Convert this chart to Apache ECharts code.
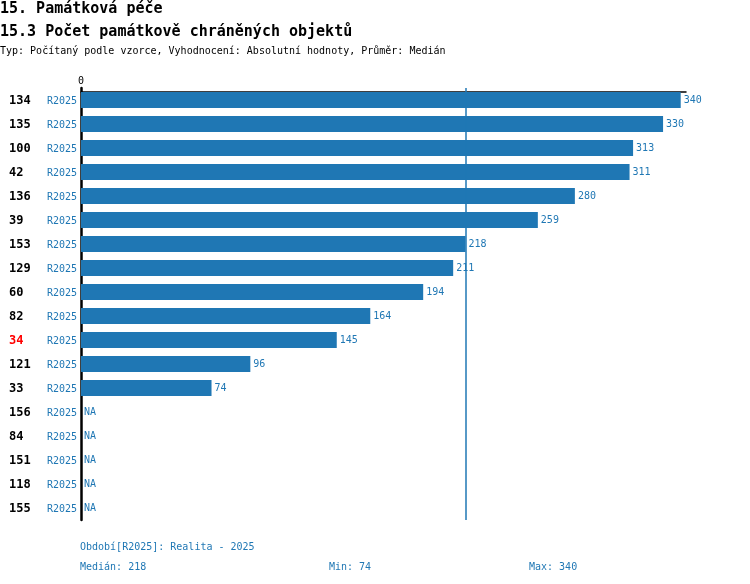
<!DOCTYPE html>
<html>
<head>
<meta charset="utf-8">
<script src="https://cdn.jsdelivr.net/npm/echarts@6/dist/echarts.min.js"></script>
<style>
  html, body { margin: 0; padding: 0; background: #fff; }
  #main { width: 750px; height: 584px; }
</style>
</head>
<body>
<div id="main"></div>
<script>
var ids = ['134', '135', '100', '42', '136', '39', '153', '129', '60', '82', '34', '121', '33', '156', '84', '151', '118', '155'];
var periods = ['R2025', 'R2025', 'R2025', 'R2025', 'R2025', 'R2025', 'R2025', 'R2025', 'R2025', 'R2025', 'R2025', 'R2025', 'R2025', 'R2025', 'R2025', 'R2025', 'R2025', 'R2025'];
var values = [340, 330, 313, 311, 280, 259, 218, 211, 194, 164, 145, 96, 74, null, null, null, null, null];
var highlighted = '34';
var median = 218;

var blue = '#1f77b4';
var mono = '"DejaVu Sans Mono", monospace';

var known = values.filter(function (v) { return v != null; });
var minVal = Math.min.apply(null, known);
var maxVal = Math.max.apply(null, known);

var cats = ids.map(function (id, i) { return id + '|' + periods[i]; });

var myChart = echarts.init(document.getElementById('main'));

var option = {
  animation: false,
  textStyle: { fontFamily: mono },
  title: [
    { text: '15. Památková péče', left: 0, top: 2, padding: 0,
      textStyle: { fontFamily: mono, fontSize: 15, fontWeight: 'bold', color: '#000' } },
    { text: '15.3 Počet památkově chráněných objektů', left: 0, top: 25, padding: 0,
      textStyle: { fontFamily: mono, fontSize: 15, fontWeight: 'bold', color: '#000' } },
    { text: 'Typ: Počítaný podle vzorce, Vyhodnocení: Absolutní hodnoty, Průměr: Medián', left: 0, top: 46, padding: 0,
      textStyle: { fontFamily: mono, fontSize: 10, fontWeight: 'normal', color: '#000' } },
    { text: 'Období[R2025]: Realita - 2025', left: 80, top: 542, padding: 0,
      textStyle: { fontFamily: mono, fontSize: 10, fontWeight: 'normal', color: blue } },
    { text: 'Medián: ' + median, left: 80, top: 562, padding: 0,
      textStyle: { fontFamily: mono, fontSize: 10, fontWeight: 'normal', color: blue } },
    { text: 'Min: ' + minVal, left: 329, top: 562, padding: 0,
      textStyle: { fontFamily: mono, fontSize: 10, fontWeight: 'normal', color: blue } },
    { text: 'Max: ' + maxVal, left: 529, top: 562, padding: 0,
      textStyle: { fontFamily: mono, fontSize: 10, fontWeight: 'normal', color: blue } }
  ],
  grid: { left: 81, right: 64, top: 88, height: 432, containLabel: false },
  xAxis: {
    type: 'value',
    position: 'top',
    offset: -4,
    min: 0,
    max: 343,
    interval: 343,
    axisLine: { show: true, lineStyle: { color: '#000', width: 1.5 } },
    axisTick: { show: false },
    splitLine: { show: false },
    axisLabel: {
      margin: 6,
      fontFamily: mono, fontSize: 10, color: '#000',
      formatter: function (v) { return v === 0 ? '0' : ''; }
    }
  },
  yAxis: {
    type: 'category',
    inverse: true,
    data: cats,
    axisLine: { show: true, lineStyle: { color: '#000', width: 2.5 } },
    axisTick: { show: false },
    axisLabel: {
      margin: 4,
      formatter: function (v) {
        var p = v.split('|');
        var key = p[0] === highlighted ? 'hi' : 'id';
        return '{' + key + '|' + p[0] + '}{per|' + p[1] + '}';
      },
      rich: {
        id: { fontFamily: mono, fontSize: 12, fontWeight: 'bold', color: '#000', width: 36, align: 'left', padding: [2, 0, 0, 0] },
        hi: { fontFamily: mono, fontSize: 12, fontWeight: 'bold', color: '#ff0000', width: 36, align: 'left', padding: [2, 0, 0, 0] },
        per: { fontFamily: mono, fontSize: 10, color: blue, width: 32, align: 'right', padding: [2, 0, 0, 0] }
      }
    }
  },
  series: [
    {
      type: 'bar',
      barWidth: 16,
      itemStyle: { color: blue },
      data: values.map(function (v) { return v == null ? 0 : v; }),
      label: {
        show: true,
        position: 'right',
        distance: 3,
        fontFamily: mono,
        fontSize: 10,
        color: blue,
        padding: [2, 0, 0, 0],
        formatter: function (p) {
          var v = values[p.dataIndex];
          return v == null ? 'NA' : String(v);
        }
      },
      markLine: {
        silent: true,
        symbol: 'none',
        label: { show: false },
        lineStyle: { color: blue, width: 1.5, type: 'solid', opacity: 1 },
        emphasis: { disabled: true },
        data: [{ xAxis: median }]
      }
    }
  ]
};

myChart.setOption(option);
</script>
</body>
</html>
